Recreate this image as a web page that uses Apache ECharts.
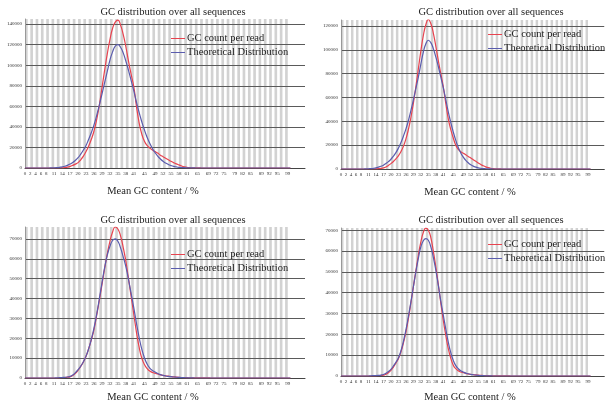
<!DOCTYPE html>
<html>
<head>
<meta charset="utf-8">
<script src="https://cdn.jsdelivr.net/npm/echarts@6/dist/echarts.min.js"></script>
<style>
  html, body { margin: 0; padding: 0; background: #fff; }
  #chart { width: 606px; height: 405px; }
</style>
</head>
<body>
<div id="chart"></div>
<script>
// x categories: mean GC content 0..100 %
var gcPercent = [];
for (var g = 0; g <= 100; g++) gcPercent.push(g);
// labels that are printed under the x axis
var xTickLabels = [0, 2, 4, 6, 8, 11, 14, 17, 20, 23, 26, 29, 32, 35, 38, 41, 45, 49, 52, 55, 58, 61, 65, 69, 72, 75, 79, 82, 85, 89, 92, 95, 99];

// sample 1 (top left)
var gcCount1 = [
  0, 0, 0, 0, 0, 0, 0, 0, 0, 0,
  0, 0, 0, 0, 200, 500, 900, 1600, 2600, 3800,
  5200, 8000, 11500, 16000, 21500, 28000, 36000, 47000, 61000, 78000,
  95000, 111000, 125000, 136000, 142000, 144000, 139000, 130000, 118000, 104000,
  91000, 79000, 60000, 44000, 33000, 26000, 22000, 19500, 17500, 16000,
  14500, 12500, 11000, 9500, 8000, 6500, 5200, 4000, 3000, 2000,
  1200, 600, 300, 150, 80, 50, 30, 0, 0, 0,
  0, 0, 0, 0, 0, 0, 0, 0, 0, 0,
  0, 0, 0, 0, 0, 0, 0, 0, 0, 0,
  0, 0, 0, 0, 0, 0, 0, 0, 0, 0,
  0
];
var theory1 = [
  0, 0, 0, 0, 0, 0, 0, 0, 0, 0,
  100, 200, 400, 700, 1100, 1700, 2600, 3800, 5400, 7500,
  10000, 13500, 17500, 22000, 28000, 34500, 42000, 51000, 61000, 72000,
  83000, 94000, 105000, 113000, 118500, 120000, 117500, 112000, 104000, 95000,
  85000, 75000, 64000, 54000, 45000, 37000, 30000, 24000, 19000, 15000,
  11500, 8800, 6500, 4800, 3400, 2400, 1600, 1100, 700, 450,
  280, 170, 100, 60, 30, 0, 0, 0, 0, 0,
  0, 0, 0, 0, 0, 0, 0, 0, 0, 0,
  0, 0, 0, 0, 0, 0, 0, 0, 0, 0,
  0, 0, 0, 0, 0, 0, 0, 0, 0, 0,
  0
];

// sample 2 (top right)
var gcCount2 = [
  0, 0, 0, 0, 0, 0, 0, 0, 0, 0,
  0, 0, 0, 0, 100, 250, 500, 900, 1700, 3000,
  4500, 6300, 8500, 11000, 14500, 19000, 25000, 33000, 43000, 55000,
  69000, 84000, 99000, 112000, 121000, 125500, 122000, 114000, 103000, 91000,
  80000, 69000, 55000, 42000, 33000, 26000, 20000, 16500, 14500, 13200,
  12000, 10500, 9200, 7800, 6400, 5000, 3800, 2700, 1800, 1100,
  600, 300, 150, 80, 40, 0, 0, 0, 0, 0,
  0, 0, 0, 0, 0, 0, 0, 0, 0, 0,
  0, 0, 0, 0, 0, 0, 0, 0, 0, 0,
  0, 0, 0, 0, 0, 0, 0, 0, 0, 0,
  0
];
var theory2 = [
  0, 0, 0, 0, 0, 0, 0, 0, 0, 0,
  100, 200, 350, 600, 1000, 1600, 2300, 3200, 4600, 6200,
  8200, 10700, 13700, 17500, 22000, 27500, 33500, 40500, 49000, 58000,
  67500, 77000, 88000, 98000, 105000, 108000, 106000, 101000, 94000, 86000,
  77000, 68000, 58000, 48000, 39000, 31000, 24000, 18000, 13500, 10000,
  7200, 5200, 3600, 2400, 1600, 1000, 600, 350, 200, 100,
  50, 0, 0, 0, 0, 0, 0, 0, 0, 0,
  0, 0, 0, 0, 0, 0, 0, 0, 0, 0,
  0, 0, 0, 0, 0, 0, 0, 0, 0, 0,
  0, 0, 0, 0, 0, 0, 0, 0, 0, 0,
  0
];

// sample 3 (bottom left)
var gcCount3 = [
  0, 0, 0, 0, 0, 0, 0, 0, 0, 0,
  0, 0, 0, 100, 150, 250, 400, 600, 1200, 2300,
  3900, 5800, 8100, 10900, 14800, 19300, 24300, 31500, 39000, 47000,
  55000, 62500, 68800, 73500, 76000, 75000, 71500, 65800, 58800, 50000,
  41000, 32000, 23000, 15500, 10000, 6800, 4800, 3500, 2800, 2400,
  2000, 1600, 1300, 1100, 900, 700, 550, 420, 320, 250,
  200, 150, 120, 100, 80, 60, 50, 40, 30, 20,
  10, 0, 0, 0, 0, 0, 0, 0, 0, 0,
  0, 0, 0, 0, 0, 0, 0, 0, 0, 0,
  0, 0, 0, 0, 0, 0, 0, 0, 0, 0,
  0
];
var theory3 = [
  0, 0, 0, 0, 0, 0, 0, 0, 0, 0,
  0, 0, 100, 150, 250, 350, 500, 800, 1500, 2700,
  4200, 6000, 8200, 11000, 14800, 19500, 25200, 32000, 39800, 47900,
  55500, 61800, 66300, 69200, 70000, 68800, 65500, 61000, 56000, 49500,
  42500, 35300, 27500, 20500, 14500, 10200, 7000, 5000, 3800, 3000,
  2300, 1700, 1300, 1000, 800, 650, 500, 380, 280, 200,
  140, 100, 60, 30, 0, 0, 0, 0, 0, 0,
  0, 0, 0, 0, 0, 0, 0, 0, 0, 0,
  0, 0, 0, 0, 0, 0, 0, 0, 0, 0,
  0, 0, 0, 0, 0, 0, 0, 0, 0, 0,
  0
];

// sample 4 (bottom right)
var gcCount4 = [
  0, 0, 0, 0, 0, 0, 0, 0, 0, 0,
  0, 0, 0, 0, 100, 150, 250, 400, 800, 1600,
  2700, 4300, 6200, 8300, 11500, 15800, 21000, 27500, 35000, 42800,
  50500, 58000, 64400, 69000, 71000, 70000, 66500, 60000, 52400, 44000,
  35000, 26700, 19500, 13100, 8500, 5200, 3500, 2500, 1900, 1600,
  1300, 1000, 800, 650, 500, 400, 300, 250, 200, 150,
  120, 100, 80, 60, 50, 40, 30, 20, 10, 0,
  0, 0, 0, 0, 0, 0, 0, 0, 0, 0,
  0, 0, 0, 0, 0, 0, 0, 0, 0, 0,
  0, 0, 0, 0, 0, 0, 0, 0, 0, 0,
  0
];
var theory4 = [
  0, 0, 0, 0, 0, 0, 0, 0, 0, 0,
  0, 0, 100, 150, 200, 300, 450, 700, 1300, 2200,
  3200, 4800, 6600, 8700, 12000, 16500, 22000, 28500, 35500, 42800,
  50000, 56500, 62000, 65000, 66000, 65200, 62000, 57000, 50800, 43500,
  36000, 29200, 22500, 16300, 11200, 7500, 5000, 3500, 2500, 1900,
  1400, 1100, 800, 600, 450, 320, 220, 150, 100, 60,
  30, 0, 0, 0, 0, 0, 0, 0, 0, 0,
  0, 0, 0, 0, 0, 0, 0, 0, 0, 0,
  0, 0, 0, 0, 0, 0, 0, 0, 0, 0,
  0, 0, 0, 0, 0, 0, 0, 0, 0, 0,
  0
];

var countData = [gcCount1, gcCount2, gcCount3, gcCount4];
var theoryData = [theory1, theory2, theory3, theory4];
var yMax = [145000, 125000, 76000, 71100];
var yStep = [20000, 20000, 10000, 10000];

(function() {
  var myChart = echarts.init(document.getElementById('chart'));
  var serif = '"Liberation Serif", "DejaVu Serif", serif';
  var redColor = '#e8434f';
  var blueColor = '#5a5cae';

  // panel boxes
  var grids = [
    { left: 25, top: 19, width: 280, height: 149 },
    { left: 341, top: 20, width: 280, height: 149 },
    { left: 25, top: 227, width: 280, height: 151 },
    { left: 341, top: 228, width: 280, height: 148 }
  ];
  // where the texts of each panel go
  var titlePos = [[173, 12], [491, 12], [173, 220], [491, 220]];
  var xNamePos = [[153, 191], [470, 192], [153, 397], [470, 397]];
  // legend tops kept odd so the 1px icons land on whole pixels
  var legendPos = [[171, 33], [488, 29], [171, 249], [488, 239]];

  // grey stripes, one per GC step
  var stripes = [];
  for (var i = 0; i < gcPercent.length - 1; i += 2) {
    stripes.push([{ xAxis: gcPercent[i] }, { xAxis: gcPercent[i + 1] }]);
  }

  var xAxes = [], yAxes = [], series = [], legends = [], graphics = [];
  grids.forEach(function(gr, k) {
    xAxes.push({
      type: 'value',
      gridIndex: k,
      min: 0,
      max: 105.5,
      interval: 1,
      z: 3,
      axisLine: { show: true, lineStyle: { color: '#444', width: 1 } },
      axisTick: { show: false },
      splitLine: { show: false },
      axisLabel: {
        fontSize: 5,
        fontFamily: serif,
        color: '#333',
        margin: 3,
        showMaxLabel: false,
        formatter: function(v) {
          return xTickLabels.indexOf(v) >= 0 ? String(v) : '';
        }
      }
    });
    yAxes.push({
      type: 'value',
      gridIndex: k,
      min: 0,
      max: yMax[k],
      interval: yStep[k],
      z: 3,
      axisLine: { show: true, lineStyle: { color: '#999', width: 1 } },
      axisTick: { show: false },
      splitLine: { show: true, showMaxLine: false, lineStyle: { color: '#5a5a5a', width: 1 } },
      axisLabel: {
        fontSize: 5,
        fontFamily: serif,
        color: '#333',
        margin: 3,
        showMaxLabel: false,
        formatter: function(v) { return String(v); }
      }
    });
    // background stripes
    series.push({
      name: 'stripes' + k,
      type: 'line',
      xAxisIndex: k,
      yAxisIndex: k,
      data: [],
      z: 1,
      silent: true,
      markArea: {
        silent: true,
        itemStyle: { color: '#d2d2d2' },
        data: stripes
      }
    });
    series.push({
      name: 'GC count per read',
      type: 'line',
      xAxisIndex: k,
      yAxisIndex: k,
      z: 5,
      smooth: true,
      symbol: 'none',
      lineStyle: { color: redColor, width: 1.2 },
      itemStyle: { color: redColor },
      data: gcPercent.map(function(g, i) { return [g, countData[k][i]]; })
    });
    series.push({
      name: 'Theoretical Distribution',
      type: 'line',
      xAxisIndex: k,
      yAxisIndex: k,
      z: 6,
      smooth: true,
      symbol: 'none',
      lineStyle: { color: blueColor, width: 1.2 },
      itemStyle: { color: blueColor },
      data: gcPercent.map(function(g, i) { return [g, theoryData[k][i]]; })
    });
    legends.push({
      data: [
        { name: 'GC count per read', itemStyle: { color: redColor } },
        { name: 'Theoretical Distribution', itemStyle: { color: blueColor } }
      ],
      orient: 'vertical',
      left: legendPos[k][0],
      top: legendPos[k][1],
      padding: 0,
      itemGap: 3,
      icon: 'rect',
      itemWidth: 14,
      itemHeight: 1,
      textStyle: { fontFamily: serif, fontSize: 10.5, lineHeight: 11, color: '#222', padding: [0, 0, 0, -3] }
    });
    graphics.push({
      type: 'text',
      x: titlePos[k][0],
      y: titlePos[k][1],
      style: {
        text: 'GC distribution over all sequences',
        align: 'center',
        verticalAlign: 'middle',
        fontFamily: serif,
        fontSize: 10.5,
        fill: '#222'
      }
    });
    graphics.push({
      type: 'text',
      x: xNamePos[k][0],
      y: xNamePos[k][1],
      style: {
        text: 'Mean GC content / %',
        align: 'center',
        verticalAlign: 'middle',
        fontFamily: serif,
        fontSize: 10.5,
        fill: '#222'
      }
    });
  });

  var option = {
    animation: false,
    backgroundColor: '#fff',
    grid: grids,
    xAxis: xAxes,
    yAxis: yAxes,
    legend: legends,
    graphic: graphics,
    series: series
  };
  myChart.setOption(option);
  window.addEventListener('resize', function() {
    myChart.resize();
  });
})();
</script>
</body>
</html>
